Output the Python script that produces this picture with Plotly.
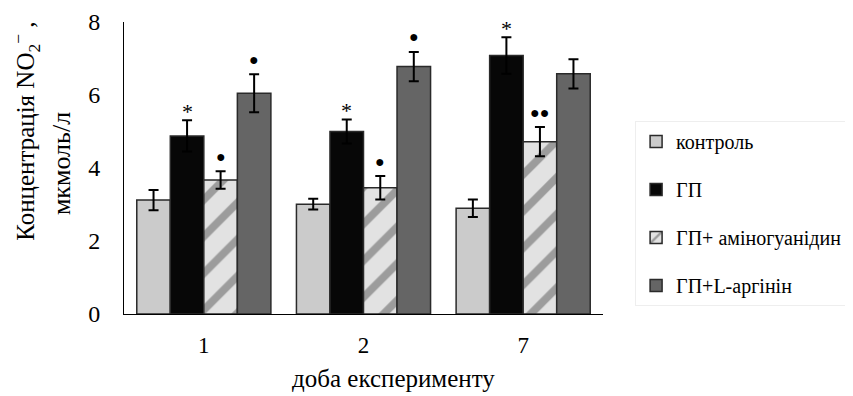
import plotly.graph_objects as go

days = ["1", "2", "7"]
series_names = ["контроль", "ГП", "ГП+ аміногуанідин", "ГП+L-аргінін"]
control = [3.12, 3.01, 2.90]
control_err = [0.28, 0.15, 0.24]
gp = [4.88, 5.00, 7.08]
gp_err = [0.43, 0.33, 0.50]
amino = [3.67, 3.46, 4.72]
amino_err = [0.24, 0.32, 0.40]
arg = [6.05, 6.78, 6.58]
arg_err = [0.52, 0.40, 0.40]
marks_gp = ["*", "*", "*"]
marks_amino = ["●", "●", "●●"]
marks_arg = ["●", "●", ""]

FONT = "Liberation Serif"
values = [control, gp, amino, arg]
errors = [control_err, gp_err, amino_err, arg_err]
colors = ["#cbcbcb", "#070707", "#d8d8d8", "#656565"]

fig = go.Figure()
for k in range(4):
    marker = dict(color=colors[k], line=dict(color="#2a2a2a", width=1.5))
    if k == 2:
        marker["pattern"] = dict(shape="/", fgcolor="#555555", bgcolor="#e2e2e2",
                                 size=26, solidity=0.3)
    fig.add_trace(go.Bar(
        x=days, y=values[k], name=series_names[k], legendgroup=str(k),
        marker=marker,
        error_y=dict(type="data", array=errors[k], color="black", thickness=2, width=5),
    ))

plot_w = 479
group_w = plot_w / 3 * (1 - 0.16)
bar_w = group_w / 4
for k, marks, fs in [(1, marks_gp, 22), (2, marks_amino, 16), (3, marks_arg, 16)]:
    for i, d in enumerate(days):
        if not marks[i]:
            continue
        fig.add_annotation(
            x=i, y=values[k][i] + errors[k][i], xref="x", yref="y",
            text=marks[i], showarrow=False, yanchor="middle", xanchor="center",
            xshift=(k - 1.5) * bar_w, yshift=(9 if k == 1 else 15),
            font=dict(family=FONT, size=fs, color="black"),
        )

fig.add_annotation(
    xref="paper", yref="paper", x=-0.205, y=0.627, textangle=-90,
    xanchor="center", yanchor="middle",
    text="Концентрація NO<sub>2</sub><sup>−</sup> ,", showarrow=False,
    font=dict(family=FONT, size=25, color="black"),
)
fig.add_annotation(
    xref="paper", yref="paper", x=-0.129, y=0.514, textangle=-90,
    xanchor="center", yanchor="middle",
    text="мкмоль/л", showarrow=False,
    font=dict(family=FONT, size=26, color="black"),
)
fig.add_annotation(
    xref="paper", yref="paper", x=0.562, y=-0.2226,
    xanchor="center", yanchor="middle",
    text="доба експерименту", showarrow=False,
    font=dict(family=FONT, size=25, color="black"),
)

# page body has an 8px margin; margins compensate so the plot lands where the reference has it
fig.update_layout(
    width=853, height=396,
    margin=dict(l=116, r=258, t=14, b=90, autoexpand=False),
    paper_bgcolor="white", plot_bgcolor="white",
    barmode="group", bargap=0.16, bargroupgap=0,
    font=dict(family=FONT, color="black"),
    showlegend=True,
    legend=dict(x=1.067, y=0.661, xanchor="left", yanchor="top",
                font=dict(family=FONT, size=20, color="black"),
                tracegroupgap=19, itemwidth=30,
                bgcolor="white", bordercolor="#eeeeee", borderwidth=1),
    xaxis=dict(type="category", showline=True, linecolor="black", linewidth=1, ticks="",
               automargin=False,
               tickfont=dict(family=FONT, size=23), ticklabelstandoff=10),
    yaxis=dict(range=[0, 8], dtick=2, showline=True, linecolor="black", linewidth=1,
               automargin=False,
               showgrid=False, zeroline=False, ticks="",
               tickfont=dict(family=FONT, size=24), ticklabelstandoff=18),
)

fig.write_html("out.html")
